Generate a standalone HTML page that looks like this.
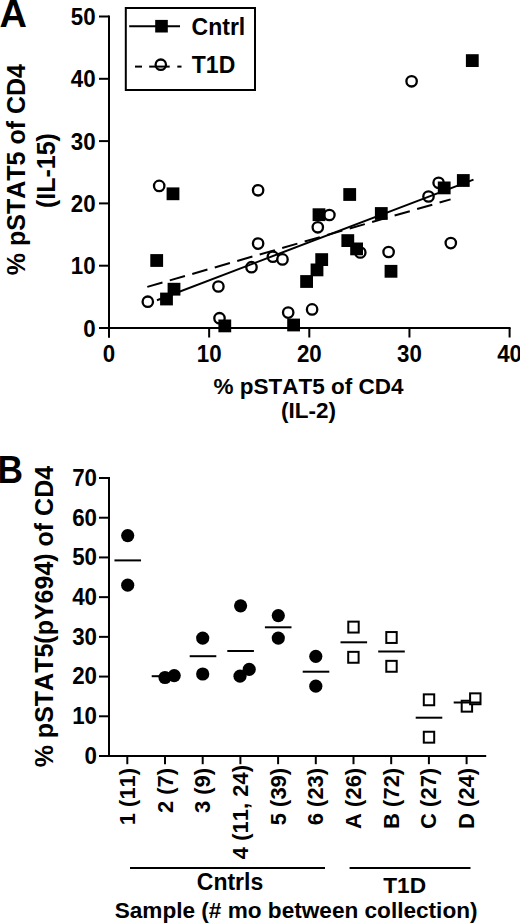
<!DOCTYPE html>
<html><head><meta charset="utf-8"><style>
html,body{margin:0;padding:0;background:#fff;}
svg{display:block;}
text{font-family:"Liberation Sans", sans-serif;font-weight:bold;fill:#000;font-kerning:none;}
</style></head><body>
<svg width="520" height="923" viewBox="0 0 520 923">
<text x="-0.4" y="27.4" font-size="38" text-anchor="start">A</text>
<line x1="109" y1="15.5" x2="109" y2="337.5" stroke="#000" stroke-width="2"/>
<line x1="99" y1="328.0" x2="510.6" y2="328.0" stroke="#000" stroke-width="2"/>
<line x1="99" y1="328.0" x2="109" y2="328.0" stroke="#000" stroke-width="2"/>
<text transform="translate(95.6,336.5) scale(0.945,1)" font-size="23.6" text-anchor="end">0</text>
<line x1="99" y1="265.7" x2="109" y2="265.7" stroke="#000" stroke-width="2"/>
<text transform="translate(95.6,274.2) scale(0.945,1)" font-size="23.6" text-anchor="end">10</text>
<line x1="99" y1="203.4" x2="109" y2="203.4" stroke="#000" stroke-width="2"/>
<text transform="translate(95.6,211.9) scale(0.945,1)" font-size="23.6" text-anchor="end">20</text>
<line x1="99" y1="141.1" x2="109" y2="141.1" stroke="#000" stroke-width="2"/>
<text transform="translate(95.6,149.6) scale(0.945,1)" font-size="23.6" text-anchor="end">30</text>
<line x1="99" y1="78.80000000000001" x2="109" y2="78.80000000000001" stroke="#000" stroke-width="2"/>
<text transform="translate(95.6,87.30000000000001) scale(0.945,1)" font-size="23.6" text-anchor="end">40</text>
<line x1="99" y1="16.5" x2="109" y2="16.5" stroke="#000" stroke-width="2"/>
<text transform="translate(95.6,25.0) scale(0.945,1)" font-size="23.6" text-anchor="end">50</text>
<line x1="109.0" y1="328.0" x2="109.0" y2="337.5" stroke="#000" stroke-width="2"/>
<text transform="translate(109.0,362.2) scale(0.945,1)" font-size="23.6" text-anchor="middle">0</text>
<line x1="209.15" y1="328.0" x2="209.15" y2="337.5" stroke="#000" stroke-width="2"/>
<text transform="translate(209.15,362.2) scale(0.945,1)" font-size="23.6" text-anchor="middle">10</text>
<line x1="309.3" y1="328.0" x2="309.3" y2="337.5" stroke="#000" stroke-width="2"/>
<text transform="translate(309.3,362.2) scale(0.945,1)" font-size="23.6" text-anchor="middle">20</text>
<line x1="409.45" y1="328.0" x2="409.45" y2="337.5" stroke="#000" stroke-width="2"/>
<text transform="translate(409.45,362.2) scale(0.945,1)" font-size="23.6" text-anchor="middle">30</text>
<line x1="509.6" y1="328.0" x2="509.6" y2="337.5" stroke="#000" stroke-width="2"/>
<text transform="translate(509.6,362.2) scale(0.945,1)" font-size="23.6" text-anchor="middle">40</text>
<text x="308.6" y="393.8" font-size="22.5" text-anchor="middle">% pSTAT5 of CD4</text>
<text x="308.6" y="417.9" font-size="22.5" text-anchor="middle">(IL-2)</text>
<text transform="translate(24.6,169.6) rotate(-90)" font-size="25" text-anchor="middle">% pSTAT5 of CD4</text>
<text transform="translate(55.0,170.6) rotate(-90)" font-size="25" text-anchor="middle">(IL-15)</text>
<rect x="125.8" y="8" width="129.2" height="82" fill="#fff" stroke="#000" stroke-width="2"/>
<line x1="129.2" y1="26.2" x2="180" y2="26.2" stroke="#000" stroke-width="2"/>
<rect x="155.20" y="19.90" width="12.6" height="12.6" fill="#000"/>
<text x="191.6" y="34.9" font-size="23" text-anchor="start">Cntrl</text>
<circle cx="160.8" cy="64.7" r="5.2" fill="#fff" stroke="#000" stroke-width="2.3"/>
<line x1="135" y1="66.6" x2="142" y2="66.6" stroke="#000" stroke-width="2"/>
<line x1="149.2" y1="66.6" x2="169.7" y2="66.6" stroke="#000" stroke-width="2"/>
<line x1="177.3" y1="66.6" x2="181.5" y2="66.6" stroke="#000" stroke-width="2"/>
<text x="191.8" y="73.2" font-size="23" text-anchor="start">T1D</text>
<circle cx="159.2" cy="185.9" r="5.2" fill="#fff" stroke="#000" stroke-width="2.3"/>
<circle cx="147.8" cy="301.7" r="5.2" fill="#fff" stroke="#000" stroke-width="2.3"/>
<circle cx="218.4" cy="286.5" r="5.2" fill="#fff" stroke="#000" stroke-width="2.3"/>
<circle cx="219.5" cy="318.2" r="5.2" fill="#fff" stroke="#000" stroke-width="2.3"/>
<circle cx="258.1" cy="190.3" r="5.2" fill="#fff" stroke="#000" stroke-width="2.3"/>
<circle cx="258.1" cy="243.6" r="5.2" fill="#fff" stroke="#000" stroke-width="2.3"/>
<circle cx="251.5" cy="267.2" r="5.2" fill="#fff" stroke="#000" stroke-width="2.3"/>
<circle cx="272.9" cy="256.7" r="5.2" fill="#fff" stroke="#000" stroke-width="2.3"/>
<circle cx="282.5" cy="259.4" r="5.2" fill="#fff" stroke="#000" stroke-width="2.3"/>
<circle cx="317.8" cy="227.3" r="5.2" fill="#fff" stroke="#000" stroke-width="2.3"/>
<circle cx="329.4" cy="215" r="5.2" fill="#fff" stroke="#000" stroke-width="2.3"/>
<circle cx="288.2" cy="312.6" r="5.2" fill="#fff" stroke="#000" stroke-width="2.3"/>
<circle cx="312.1" cy="309.4" r="5.2" fill="#fff" stroke="#000" stroke-width="2.3"/>
<circle cx="360.3" cy="252.5" r="5.2" fill="#fff" stroke="#000" stroke-width="2.3"/>
<circle cx="388.6" cy="252" r="5.2" fill="#fff" stroke="#000" stroke-width="2.3"/>
<circle cx="428.5" cy="196.5" r="5.2" fill="#fff" stroke="#000" stroke-width="2.3"/>
<circle cx="438.6" cy="182.8" r="5.2" fill="#fff" stroke="#000" stroke-width="2.3"/>
<circle cx="450.8" cy="243.1" r="5.2" fill="#fff" stroke="#000" stroke-width="2.3"/>
<circle cx="411.6" cy="81.3" r="5.2" fill="#fff" stroke="#000" stroke-width="2.3"/>
<line x1="157" y1="300.2" x2="473.5" y2="179.6" stroke="#000" stroke-width="2"/>
<line x1="147.3" y1="286.9" x2="450.6" y2="199.4" stroke="#000" stroke-width="2" stroke-dasharray="15.8,7.6"/>
<rect x="465.90" y="54.20" width="12.8" height="12.8" fill="#000"/>
<rect x="166.60" y="187.40" width="12.8" height="12.8" fill="#000"/>
<rect x="150.30" y="254.10" width="12.8" height="12.8" fill="#000"/>
<rect x="167.60" y="282.80" width="12.8" height="12.8" fill="#000"/>
<rect x="160.10" y="292.60" width="12.8" height="12.8" fill="#000"/>
<rect x="218.40" y="319.50" width="12.8" height="12.8" fill="#000"/>
<rect x="312.60" y="208.30" width="12.8" height="12.8" fill="#000"/>
<rect x="315.30" y="253.20" width="12.8" height="12.8" fill="#000"/>
<rect x="310.60" y="263.50" width="12.8" height="12.8" fill="#000"/>
<rect x="300.20" y="275.10" width="12.8" height="12.8" fill="#000"/>
<rect x="287.20" y="318.60" width="12.8" height="12.8" fill="#000"/>
<rect x="343.30" y="188.10" width="12.8" height="12.8" fill="#000"/>
<rect x="374.90" y="207.10" width="12.8" height="12.8" fill="#000"/>
<rect x="341.40" y="234.20" width="12.8" height="12.8" fill="#000"/>
<rect x="350.20" y="242.50" width="12.8" height="12.8" fill="#000"/>
<rect x="384.60" y="264.90" width="12.8" height="12.8" fill="#000"/>
<rect x="437.80" y="181.50" width="12.8" height="12.8" fill="#000"/>
<rect x="456.90" y="174.10" width="12.8" height="12.8" fill="#000"/>
<text transform="translate(-2.4,483.3) scale(0.93,1)" font-size="38" text-anchor="start">B</text>
<line x1="109" y1="477.0" x2="109" y2="756.0" stroke="#000" stroke-width="2"/>
<line x1="99" y1="756.0" x2="486.2" y2="756.0" stroke="#000" stroke-width="2"/>
<line x1="99" y1="756.0" x2="109" y2="756.0" stroke="#000" stroke-width="2"/>
<text transform="translate(97.0,763.9) scale(0.945,1)" font-size="23.6" text-anchor="end">0</text>
<line x1="99" y1="716.2857142857143" x2="109" y2="716.2857142857143" stroke="#000" stroke-width="2"/>
<text transform="translate(97.0,724.1857142857143) scale(0.945,1)" font-size="23.6" text-anchor="end">10</text>
<line x1="99" y1="676.5714285714286" x2="109" y2="676.5714285714286" stroke="#000" stroke-width="2"/>
<text transform="translate(97.0,684.4714285714285) scale(0.945,1)" font-size="23.6" text-anchor="end">20</text>
<line x1="99" y1="636.8571428571429" x2="109" y2="636.8571428571429" stroke="#000" stroke-width="2"/>
<text transform="translate(97.0,644.7571428571429) scale(0.945,1)" font-size="23.6" text-anchor="end">30</text>
<line x1="99" y1="597.1428571428571" x2="109" y2="597.1428571428571" stroke="#000" stroke-width="2"/>
<text transform="translate(97.0,605.0428571428571) scale(0.945,1)" font-size="23.6" text-anchor="end">40</text>
<line x1="99" y1="557.4285714285714" x2="109" y2="557.4285714285714" stroke="#000" stroke-width="2"/>
<text transform="translate(97.0,565.3285714285714) scale(0.945,1)" font-size="23.6" text-anchor="end">50</text>
<line x1="99" y1="517.7142857142858" x2="109" y2="517.7142857142858" stroke="#000" stroke-width="2"/>
<text transform="translate(97.0,525.6142857142858) scale(0.945,1)" font-size="23.6" text-anchor="end">60</text>
<line x1="99" y1="478.0" x2="109" y2="478.0" stroke="#000" stroke-width="2"/>
<text transform="translate(97.0,485.9) scale(0.945,1)" font-size="23.6" text-anchor="end">70</text>
<text transform="translate(52.9,616.6) rotate(-90)" font-size="25" text-anchor="middle">% pSTAT5(pY694) of CD4</text>
<line x1="127.3" y1="756.0" x2="127.3" y2="764.2" stroke="#000" stroke-width="2"/>
<text transform="translate(134.8,767.8) rotate(-90)" font-size="22" text-anchor="end">1 (11)</text>
<line x1="165.0" y1="756.0" x2="165.0" y2="764.2" stroke="#000" stroke-width="2"/>
<text transform="translate(172.5,767.8) rotate(-90)" font-size="22" text-anchor="end">2 (7)</text>
<line x1="202.7" y1="756.0" x2="202.7" y2="764.2" stroke="#000" stroke-width="2"/>
<text transform="translate(210.2,767.8) rotate(-90)" font-size="22" text-anchor="end">3 (9)</text>
<line x1="240.4" y1="756.0" x2="240.4" y2="764.2" stroke="#000" stroke-width="2"/>
<text transform="translate(247.9,765.0) rotate(-90)" font-size="22" text-anchor="end">4 (11, 24)</text>
<line x1="278.1" y1="756.0" x2="278.1" y2="764.2" stroke="#000" stroke-width="2"/>
<text transform="translate(285.6,767.8) rotate(-90)" font-size="22" text-anchor="end">5 (39)</text>
<line x1="315.8" y1="756.0" x2="315.8" y2="764.2" stroke="#000" stroke-width="2"/>
<text transform="translate(323.3,767.8) rotate(-90)" font-size="22" text-anchor="end">6 (23)</text>
<line x1="353.5" y1="756.0" x2="353.5" y2="764.2" stroke="#000" stroke-width="2"/>
<text transform="translate(361.0,767.8) rotate(-90)" font-size="22" text-anchor="end">A (26)</text>
<line x1="391.20000000000005" y1="756.0" x2="391.20000000000005" y2="764.2" stroke="#000" stroke-width="2"/>
<text transform="translate(398.70000000000005,767.8) rotate(-90)" font-size="22" text-anchor="end">B (72)</text>
<line x1="428.90000000000003" y1="756.0" x2="428.90000000000003" y2="764.2" stroke="#000" stroke-width="2"/>
<text transform="translate(436.40000000000003,767.8) rotate(-90)" font-size="22" text-anchor="end">C (27)</text>
<line x1="466.6" y1="756.0" x2="466.6" y2="764.2" stroke="#000" stroke-width="2"/>
<text transform="translate(474.1,767.8) rotate(-90)" font-size="22" text-anchor="end">D (24)</text>
<line x1="130" y1="868.1" x2="325" y2="868.1" stroke="#000" stroke-width="2"/>
<line x1="349.6" y1="868.1" x2="470.5" y2="868.1" stroke="#000" stroke-width="2"/>
<text x="230" y="889.8" font-size="23" text-anchor="middle">Cntrls</text>
<text x="404.6" y="892.6" font-size="22.7" text-anchor="middle">T1D</text>
<text x="296.1" y="917.7" font-size="22.6" text-anchor="middle">Sample (# mo between collection)</text>
<circle cx="127.7" cy="535.6" r="6.6" fill="#000"/>
<circle cx="127.7" cy="585.2" r="6.6" fill="#000"/>
<circle cx="165" cy="677.5" r="6.6" fill="#000"/>
<circle cx="174.2" cy="675.6" r="6.6" fill="#000"/>
<circle cx="202.7" cy="638.1" r="6.6" fill="#000"/>
<circle cx="202.7" cy="674" r="6.6" fill="#000"/>
<circle cx="240.6" cy="605.8" r="6.6" fill="#000"/>
<circle cx="240" cy="676.2" r="6.6" fill="#000"/>
<circle cx="249.2" cy="669.4" r="6.6" fill="#000"/>
<circle cx="278.3" cy="615.6" r="6.6" fill="#000"/>
<circle cx="278.3" cy="638.1" r="6.6" fill="#000"/>
<circle cx="315.8" cy="656.3" r="6.6" fill="#000"/>
<circle cx="315.8" cy="686.2" r="6.6" fill="#000"/>
<rect x="348.30" y="621.65" width="10.4" height="10.9" fill="#fff" stroke="#000" stroke-width="2"/>
<rect x="348.20" y="651.85" width="10.4" height="10.9" fill="#fff" stroke="#000" stroke-width="2"/>
<rect x="386.30" y="632.05" width="10.4" height="10.9" fill="#fff" stroke="#000" stroke-width="2"/>
<rect x="386.30" y="660.85" width="10.4" height="10.9" fill="#fff" stroke="#000" stroke-width="2"/>
<rect x="423.80" y="694.35" width="10.4" height="10.9" fill="#fff" stroke="#000" stroke-width="2"/>
<rect x="423.80" y="731.75" width="10.4" height="10.9" fill="#fff" stroke="#000" stroke-width="2"/>
<rect x="461.70" y="700.75" width="10.4" height="10.9" fill="#fff" stroke="#000" stroke-width="2"/>
<rect x="470.10" y="693.35" width="10.4" height="10.9" fill="#fff" stroke="#000" stroke-width="2"/>
<line x1="114.45" y1="560.4" x2="141.05" y2="560.4" stroke="#000" stroke-width="2"/>
<line x1="151.7" y1="676.2" x2="178.3" y2="676.2" stroke="#000" stroke-width="2"/>
<line x1="189.7" y1="656.2" x2="216.3" y2="656.2" stroke="#000" stroke-width="2"/>
<line x1="227.29999999999998" y1="651" x2="253.9" y2="651" stroke="#000" stroke-width="2"/>
<line x1="264.9" y1="627.3" x2="291.5" y2="627.3" stroke="#000" stroke-width="2"/>
<line x1="302.7" y1="671.7" x2="329.3" y2="671.7" stroke="#000" stroke-width="2"/>
<line x1="340.5" y1="642.3" x2="367.1" y2="642.3" stroke="#000" stroke-width="2"/>
<line x1="378.2" y1="651.5" x2="404.8" y2="651.5" stroke="#000" stroke-width="2"/>
<line x1="415.7" y1="717.7" x2="442.3" y2="717.7" stroke="#000" stroke-width="2"/>
<line x1="453.7" y1="702.5" x2="480.3" y2="702.5" stroke="#000" stroke-width="2"/>
</svg>
</body></html>
